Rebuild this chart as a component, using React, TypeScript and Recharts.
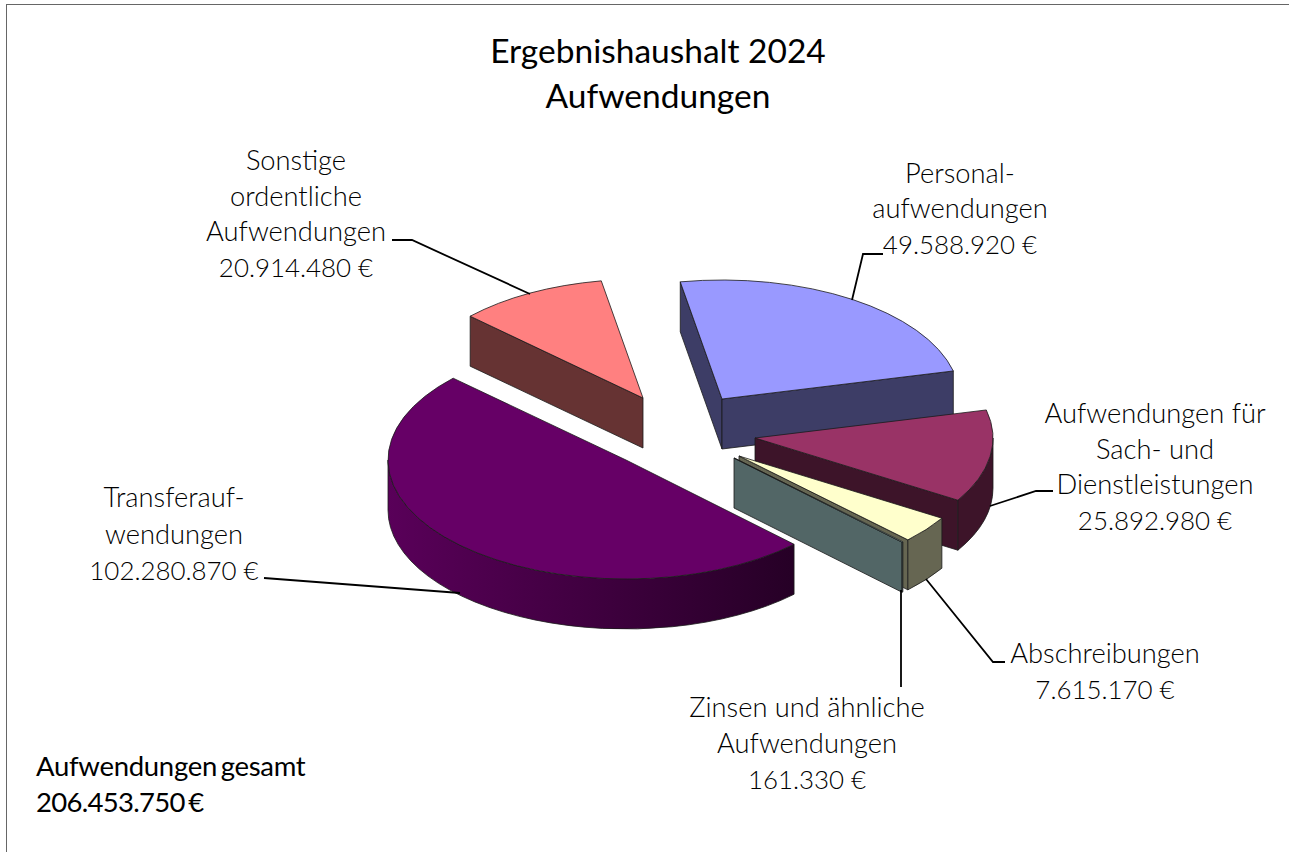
import React from "react";
import { PieChart, Pie } from "recharts";

const categories = [
  "Personal-\naufwendungen",
  "Aufwendungen für\nSach- und\nDienstleistungen",
  "Abschreibungen",
  "Zinsen und ähnliche\nAufwendungen",
  "Transferauf-\nwendungen",
  "Sonstige\nordentliche\nAufwendungen",
];
const amounts = [49588920, 25892980, 7615170, 161330, 102280870, 20914480];
const titleLines = ["Ergebnishaushalt 2024", "Aufwendungen"];
const totalLabel = "Aufwendungen gesamt";

const topColors = ["#9999ff", "#993366", "#ffffcc", "#ccffff", "#660066", "#ff8080"];
const wallColors = ["#3d3d66", "#3d1429", "#666652", "#526666", "#590059", "#663333"];
const wallFarColors = ["#3d3d66", "#3d1429", "#666652", "#526666", "#260026", "#663333"];

// slice displacement from the pie centre (exploded pie)
const explode: [number, number][] = [[96, -61], [129, -22], [113, -4], [108, -2], [0, 0], [17, -62]];
// label anchor: centre x, first baseline, line spacing
const labelAnchors: [number, number, number][] = [
  [960, 182.5, 35.5],
  [1155, 423, 35.5],
  [1105, 663, 36],
  [807, 717, 36],
  [174, 507, 36.5],
  [296, 170, 35.7],
];
const leaders: number[][][] = [
  [[883, 254], [863, 254], [852, 300]],
  [[1053, 491], [1036, 491], [990, 506]],
  [[1005, 662], [993, 662], [926, 579]],
  [[901, 687], [901, 590]],
  [[264, 578], [460, 593]],
  [[392, 240], [412, 240], [530, 294]],
];

const FONT = "Lato, 'Open Sans', sans-serif";
const SQUASH = 0.5;
const DEPTH = 50;
const RAD = Math.PI / 180;

const fmt = (v: number) => String(v).replace(/\B(?=(\d{3})+$)/g, ".") + " €";
const data = categories.map((name, i) => ({ name, value: amounts[i] }));
const total = amounts.reduce((a, b) => a + b, 0);

function Slice3D(props: any) {
  const { cx, cy, outerRadius: R, startAngle, endAngle, name } = props;
  const i = categories.indexOf(name);
  const ox = cx + explode[i][0];
  const oy = cy + explode[i][1];
  const ry = R * SQUASH;
  const a0 = Math.max(startAngle, endAngle);
  const a1 = Math.min(startAngle, endAngle);
  const pt = (t: number, d = 0) => [ox + R * Math.cos(t * RAD), oy - ry * Math.sin(t * RAD) + d];
  const line = "#1a1a1a";
  const radialWall = (t: number) => {
    const p = pt(t);
    const q = pt(t, DEPTH);
    return (
      <path
        d={`M${ox},${oy}L${p[0]},${p[1]}L${q[0]},${q[1]}L${ox},${oy + DEPTH}Z`}
        fill={wallColors[i]}
        stroke={line}
        strokeWidth={0.8}
      />
    );
  };
  const showStart = Math.cos(a0 * RAD) < 0;
  const showEnd = Math.cos(a1 * RAD) > 0;
  const wa = Math.min(a0, 0);
  const wb = Math.max(a1, -180);
  const hasOuter = wa > wb;
  const gid = `wall-${i}`;
  const s = pt(a0);
  const e = pt(a1);
  const large = a0 - a1 > 180 ? 1 : 0;
  let outer = "";
  if (hasOuter) {
    const p = pt(wa);
    const q = pt(wb);
    const p2 = pt(wa, DEPTH);
    const q2 = pt(wb, DEPTH);
    outer = `M${p[0]},${p[1]}A${R},${ry} 0 0 1 ${q[0]},${q[1]}L${q2[0]},${q2[1]}A${R},${ry} 0 0 0 ${p2[0]},${p2[1]}Z`;
  }
  return (
    <g>
      <defs>
        <linearGradient id={gid} x1="0" y1="0" x2="1" y2="0">
          <stop offset="0" stopColor={wallColors[i]} />
          <stop offset="1" stopColor={wallFarColors[i]} />
        </linearGradient>
      </defs>
      {showStart && radialWall(a0)}
      {showEnd && radialWall(a1)}
      {hasOuter && <path d={outer} fill={`url(#${gid})`} stroke={line} strokeWidth={0.8} />}
      <path
        d={`M${ox},${oy}L${s[0]},${s[1]}A${R},${ry} 0 ${large} 1 ${e[0]},${e[1]}Z`}
        fill={topColors[i]}
        stroke={line}
        strokeWidth={0.8}
      />
    </g>
  );
}

function SliceLabel(props: any) {
  const { name, value } = props;
  const i = categories.indexOf(name);
  const [x, y, step] = labelAnchors[i];
  const names: string[] = name.split("\n");
  return (
    <g>
      <polyline
        points={leaders[i].map((p) => p.join(",")).join(" ")}
        fill="none"
        stroke="#000"
        strokeWidth={1.8}
      />
      <text x={x} y={y} textAnchor="middle" fontFamily={FONT} fontWeight={300} fontSize={27.3} fill="#000">
        {names.map((l: string, k: number) => (
          <tspan key={k} x={x} y={y + k * step}>
            {l}
          </tspan>
        ))}
        <tspan x={x} y={y + names.length * step} fontSize={25.9}>
          {fmt(value)}
        </tspan>
      </text>
    </g>
  );
}

export default function App() {
  return (
    <div style={{ position: "absolute", left: 0, top: 0, width: 1289, height: 852, overflow: "hidden", background: "#fff" }}>
      <div
        style={{
          position: "absolute",
          left: 6,
          top: 4,
          right: -2,
          bottom: -2,
          borderLeft: "1px solid #666",
          borderTop: "1px solid #666",
        }}
      />
      <PieChart width={1289} height={852} margin={{ top: 0, right: 0, bottom: 0, left: 0 }} style={{ position: "absolute", left: 0, top: 0 }}>
        <Pie
          data={data}
          dataKey="value"
          nameKey="name"
          cx={626}
          cy={460}
          innerRadius={0}
          outerRadius={238}
          startAngle={100.1}
          endAngle={-259.9}
          stroke="none"
          shape={Slice3D}
          label={SliceLabel}
          labelLine={false}
          isAnimationActive={false}
          rootTabIndex={-1}
        />
        <text textAnchor="middle" fontFamily={FONT} fontSize={33.5} fill="#000">
          {titleLines.map((l, k) => (
            <tspan key={k} x={658} y={63 + k * 45}>
              {l}
            </tspan>
          ))}
        </text>
        <text fontFamily={FONT} fontSize={27.5} fill="#000">
          <tspan x={36} y={776} letterSpacing={-0.3} wordSpacing={-3}>
            {totalLabel}
          </tspan>
          <tspan x={36} y={812} letterSpacing={-0.7} wordSpacing={-3}>
            {fmt(total)}
          </tspan>
        </text>
      </PieChart>
    </div>
  );
}
